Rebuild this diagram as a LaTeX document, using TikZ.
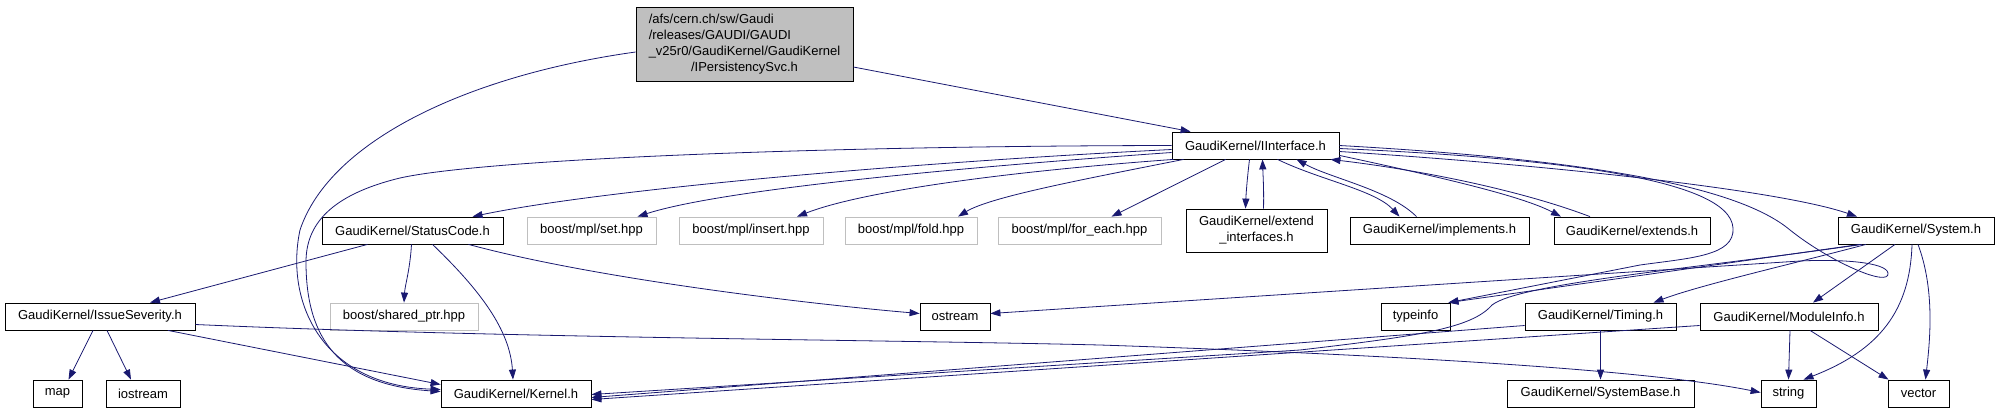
\documentclass[tikz,border=0pt]{standalone}
\usepackage{fontspec}
\setmainfont{Liberation Sans}
\usetikzlibrary{arrows.meta}
\definecolor{edgeblue}{HTML}{191970}
\definecolor{boxgray}{HTML}{BFBFBF}
\tikzset{
  hdr/.style={draw=black, line width=0.8pt, inner sep=0pt, minimum height=27pt,
    font=\fontsize{13}{16}\selectfont},
  syshdr/.style={hdr, draw=boxgray},
  roothdr/.style={hdr, fill=boxgray},
  dep/.style={draw=edgeblue, line width=0.8pt, -{Triangle[length=10pt,width=7pt]}},
}

\begin{document}
\begin{tikzpicture}[x=1pt,y=-1pt]
		%%%%% START %%%%%
		\useasboundingbox (0,0) rectangle (1997,413);
		
		\node[roothdr, minimum width=217pt, minimum height=74pt] (root) at (744.5,44) {\begin{tabular}{@{}l@{}}/afs/cern.ch/sw/Gaudi\\/releases/GAUDI/GAUDI\\\_v25r0/GaudiKernel/GaudiKernel\\\multicolumn{1}{@{}c@{}}{/IPersistencySvc.h}\end{tabular}};
		
		\node[hdr, minimum width=167pt] (iinterface) at (1255.5,145.5) {GaudiKernel/IInterface.h};
		
		\node[hdr, minimum width=181pt] (statuscode) at (412.5,230.5) {GaudiKernel/StatusCode.h};
		\node[syshdr, minimum width=129pt] (mplset) at (591.5,230.5) {boost/mpl/set.hpp};
		\node[syshdr, minimum width=144pt] (mplinsert) at (751,230.5) {boost/mpl/insert.hpp};
		\node[syshdr, minimum width=132pt] (mplfold) at (911,230.5) {boost/mpl/fold.hpp};
		\node[syshdr, minimum width=163pt] (mplforeach) at (1079.5,230.5) {boost/mpl/for\_each.hpp};
		\node[hdr, minimum width=141pt, minimum height=43pt, align=center] (extendif) at (1256.5,230.5) {GaudiKernel/extend\\\_interfaces.h};
		\node[hdr, minimum width=179pt] (implements) at (1439.5,230.5) {GaudiKernel/implements.h};
		\node[hdr, minimum width=156pt] (extends) at (1632,230.5) {GaudiKernel/extends.h};
		\node[hdr, minimum width=156pt] (system) at (1916,230.5) {GaudiKernel/System.h};
		
		\node[hdr, minimum width=190pt] (issuesev) at (100,316.5) {GaudiKernel/IssueSeverity.h};
		\node[syshdr, minimum width=148pt] (sharedptr) at (404,316.5) {boost/shared\_ptr.hpp};
		\node[hdr, minimum width=70pt] (ostream) at (955,316.5) {ostream};
		\node[hdr, minimum width=69pt] (typeinfo) at (1415.5,316.5) {typeinfo};
		\node[hdr, minimum width=151pt] (timing) at (1600.5,316.5) {GaudiKernel/Timing.h};
		\node[hdr, minimum width=178pt] (moduleinfo) at (1789,316.5) {GaudiKernel/ModuleInfo.h};
		
		\node[hdr, minimum width=49pt] (map) at (57.5,393.5) {map};
		\node[hdr, minimum width=74pt] (iostream) at (143,393.5) {iostream};
		\node[hdr, minimum width=150pt] (kernel) at (516,393.5) {GaudiKernel/Kernel.h};
		\node[hdr, minimum width=187pt] (systembase) at (1600.5,393.5) {GaudiKernel/SystemBase.h};
		\node[hdr, minimum width=55pt] (string) at (1788.5,393.5) {string};
		\node[hdr, minimum width=61pt] (vector) at (1918.5,393.5) {vector};
		
		% IPersistencySvc.h
		\draw[dep] ([yshift=-23pt]root.east) -- ([xshift=19pt]iinterface.north west);
		\draw[dep] ([yshift=-8pt]root.west) .. controls (470,75) and (330,140) .. (300,230) .. controls (285,300) and (320,385) .. ([yshift=4pt]kernel.west);
		
		% IInterface.h
		\draw[dep] (iinterface.west) .. controls (800,146) and (480,160) .. (400,178) .. controls (330,195) and (306,225) .. (306,262) .. controls (306,340) and (340,385) .. ([yshift=2pt]kernel.west);
		\draw[dep] ([yshift=-4pt]iinterface.west) .. controls (900,163) and (600,190) .. ([xshift=60pt]statuscode.north);
		\draw[dep] ([yshift=-7pt]iinterface.west) .. controls (950,168) and (720,190) .. ([xshift=46pt]mplset.north);
		\draw[dep] ([xshift=2pt]iinterface.south west) .. controls (1000,172) and (860,192) .. ([xshift=46pt]mplinsert.north);
		\draw[dep] ([xshift=12pt]iinterface.south west) .. controls (1080,180) and (990,197) .. ([xshift=47pt]mplfold.north);
		\draw[dep] ([xshift=54pt]iinterface.south west) -- ([xshift=32pt]mplforeach.north);
		\draw[dep] ([xshift=-6pt]iinterface.south) .. controls (1247,180) and (1246,195) .. ([xshift=-11pt]extendif.north);
		\draw[dep] ([xshift=7pt]extendif.north) .. controls (1264,190) and (1263,175) .. ([xshift=7pt]iinterface.south);
		\draw[dep] ([xshift=22pt]iinterface.south) .. controls (1320,180) and (1375,190) .. ([xshift=-40pt]implements.north);
		\draw[dep] ([xshift=-23pt]implements.north) .. controls (1390,190) and (1330,178) .. ([xshift=41pt]iinterface.south);
		\draw[dep] ([yshift=4pt]iinterface.south east) .. controls (1430,175) and (1520,195) .. ([xshift=-71pt]extends.north);
		\draw[dep] ([xshift=-42pt]extends.north) .. controls (1520,190) and (1420,170) .. ([xshift=-9pt]iinterface.south east);
		\draw[dep] ([yshift=-6pt]iinterface.east) .. controls (1550,165) and (1780,190) .. ([xshift=-59pt]system.north);
		\draw[dep] ([yshift=-3pt]iinterface.east) .. controls (1550,158) and (1730,178) .. (1733,228) .. controls (1735,256) and (1690,258) .. (1640,265) -- ([xshift=-2pt]typeinfo.north east);
		\draw[dep] (iinterface.east) .. controls (1600,160) and (1740,188) .. (1790,230) .. controls (1830,262) and (1890,288) .. (1888,273) .. controls (1886,262) and (1840,259) .. (1800,261) -- ([yshift=3pt]ostream.east);
		
		% StatusCode.h
		\draw[dep] ([xshift=-45pt]statuscode.south) -- ([xshift=50pt]issuesev.north);
		\draw[dep] ([xshift=-1pt]statuscode.south) .. controls (410,270) and (405,285) .. (sharedptr.north);
		\draw[dep] ([xshift=20pt]statuscode.south) .. controls (480,290) and (510,330) .. ([xshift=-3pt]kernel.north);
		\draw[dep] ([xshift=56pt]statuscode.south) .. controls (600,280) and (820,305) .. ([yshift=3pt]ostream.west);
		
		% IssueSeverity.h
		\draw[dep] ([xshift=-7pt]issuesev.south) -- ([xshift=11pt]map.north);
		\draw[dep] ([xshift=7pt]issuesev.south) -- ([xshift=-12pt]iostream.north);
		\draw[dep] ([xshift=68pt]issuesev.south) -- ([yshift=9pt]kernel.west);
		\draw[dep] ([yshift=-8pt]issuesev.east) .. controls (500,338) and (900,340) .. (1100,345) .. controls (1400,355) and (1650,370) .. ([yshift=1pt]string.west);
		
		% System.h
		\draw[dep] ([xshift=-56pt]system.south) -- ([xshift=-2pt]typeinfo.north east);
		\draw[dep] ([xshift=-54pt]system.south) .. controls (1700,268) and (1520,283) .. (1492,305) .. controls (1472,328) and (1420,336) .. (1300,350) -- ([yshift=-1pt]kernel.east);
		\draw[dep] ([xshift=-50pt]system.south) .. controls (1800,262) and (1700,285) .. ([xshift=53pt]timing.north);
		\draw[dep] ([xshift=-21pt]system.south) -- ([xshift=24pt]moduleinfo.north);
		\draw[dep] ([xshift=-4pt]system.south) .. controls (1910,310) and (1880,350) .. ([xshift=15pt]string.north);
		\draw[dep] ([xshift=2pt]system.south) .. controls (1935,290) and (1930,340) .. ([xshift=7pt]vector.north);
		
		% Timing.h / ModuleInfo.h
		\draw[dep] (timing.south) -- (systembase.north);
		\draw[dep] ([yshift=-9pt]timing.west) -- ([yshift=-4pt]kernel.east);
		\draw[dep] ([yshift=-9pt]moduleinfo.west) -- ([yshift=-6pt]kernel.east);
		\draw[dep] ([xshift=1pt]moduleinfo.south) -- (string.north);
		\draw[dep] ([xshift=21pt]moduleinfo.south) -- ([xshift=-30pt]vector.north);
		
		%%%%% END %%%%%
\end{tikzpicture}
\end{document}
